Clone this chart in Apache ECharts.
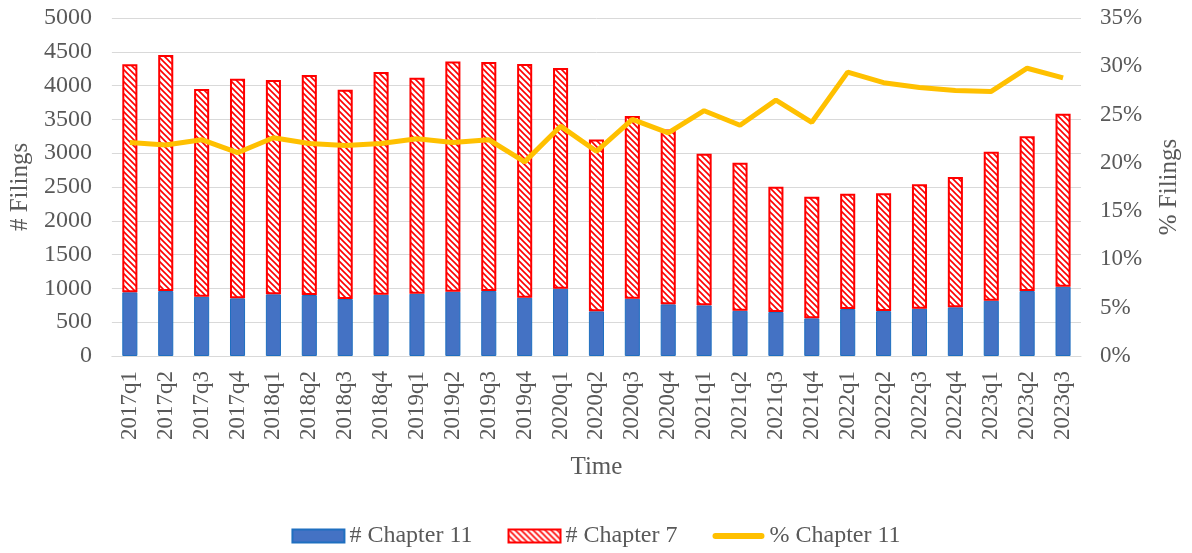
<!DOCTYPE html>
<html>
<head>
<meta charset="utf-8">
<script src="https://cdn.jsdelivr.net/npm/echarts@6/dist/echarts.min.js"></script>
<style>
  html, body { margin: 0; padding: 0; background: #fff; }
  #chart { width: 1192px; height: 553px; }
</style>
</head>
<body>
<div id="chart"></div>
<script>
// 季度
const quarters = [
  '2017q1', '2017q2', '2017q3', '2017q4',
  '2018q1', '2018q2', '2018q3', '2018q4',
  '2019q1', '2019q2', '2019q3', '2019q4',
  '2020q1', '2020q2', '2020q3', '2020q4',
  '2021q1', '2021q2', '2021q3', '2021q4',
  '2022q1', '2022q2', '2022q3', '2022q4',
  '2023q1', '2023q2', '2023q3'
]

// 第11章申请数
const chapter11 = [
  942, 961, 877, 853, 912, 902, 843, 907, 922, 951, 961, 863,
  996, 661, 848, 764, 749, 670, 651, 557, 695, 664, 700, 720,
  818, 961, 1025
]

// 第7章申请数（柱顶总数减第11章）
const chapter7 = [
  3372, 3491, 3072, 3249, 3170, 3254, 3096, 3293, 3195, 3407, 3387, 3456,
  3264, 2543, 2702, 2588, 2243, 2189, 1853, 1799, 1706, 1742, 1839, 1927,
  2204, 2288, 2559
]

// 第11章占比
const pctChapter11 = [
  0.221, 0.2185, 0.224, 0.2105, 0.226, 0.220, 0.218, 0.220, 0.225, 0.221, 0.224, 0.201,
  0.238, 0.212, 0.245, 0.231, 0.254, 0.239, 0.265, 0.242, 0.294, 0.283, 0.278, 0.275,
  0.274, 0.298, 0.288
]

const leftTicks = [0, 5000, 500]
const rightTicks = [0, 0.35, 0.05]

// 红色斜线填充
const makeHatch = function () {
  const c = document.createElement('canvas')
  c.width = 6
  c.height = 6
  const ctx = c.getContext('2d')
  ctx.fillStyle = '#ffffff'
  ctx.fillRect(0, 0, 6, 6)
  ctx.strokeStyle = '#ff0000'
  ctx.lineWidth = 1.6
  ctx.beginPath()
  ctx.moveTo(-1, -1); ctx.lineTo(7, 7)
  ctx.moveTo(-4, 2); ctx.lineTo(2, 8)
  ctx.moveTo(2, -4); ctx.lineTo(8, 2)
  ctx.stroke()
  return c
}

const chart = echarts.init(document.getElementById('chart'))

const font = 'Liberation Serif'
const grey = '#595959'

// 图例里的折线图标（圆头粗线）
const lineIcon = 'path://M3,0 H49 A3,3 0 0 1 49,6 H3 A3,3 0 0 1 3,0 Z'

const option = {
  textStyle: { fontFamily: font },
  grid: { left: 109, right: 111, top: 18, bottom: 197 },
  legend: {
    top: 519,
    left: 'center',
    itemWidth: 52,
    itemHeight: 13,
    itemGap: 35,
    textStyle: { fontFamily: font, fontSize: 24, color: grey },
    data: [
      { name: '# Chapter 11', icon: 'rect' },
      { name: '# Chapter 7', icon: 'rect' },
      {
        name: '% Chapter 11',
        icon: lineIcon,
        itemStyle: { color: '#FFC000', borderWidth: 0 },
        lineStyle: { width: 0 }
      }
    ]
  },
  xAxis: {
    type: 'category',
    data: quarters,
    name: 'Time',
    nameLocation: 'middle',
    nameGap: 99,
    nameTextStyle: { fontFamily: font, fontSize: 25, color: grey },
    axisLine: { lineStyle: { color: '#d9d9d9', width: 1 } },
    axisTick: { show: false },
    axisLabel: {
      interval: 0,
      rotate: 90,
      margin: 15,
      fontFamily: font,
      fontSize: 23,
      color: grey
    }
  },
  yAxis: [
    {
      type: 'value',
      min: leftTicks[0],
      max: leftTicks[1],
      interval: leftTicks[2],
      name: '# Filings',
      nameLocation: 'middle',
      nameGap: 76,
      nameTextStyle: { fontFamily: font, fontSize: 25, color: grey },
      axisLine: { show: false },
      axisTick: { show: false },
      axisLabel: {
        margin: 20,
        fontFamily: font,
        fontSize: 24,
        color: grey,
        formatter: v => String(v)
      },
      splitLine: { lineStyle: { color: '#d9d9d9', width: 1 } }
    },
    {
      type: 'value',
      min: rightTicks[0],
      max: rightTicks[1],
      interval: rightTicks[2],
      name: '% Filings',
      nameLocation: 'middle',
      nameGap: 76,
      nameRotate: 90,
      nameTextStyle: { fontFamily: font, fontSize: 25, color: grey },
      axisLine: { show: false },
      axisTick: { show: false },
      axisLabel: {
        margin: 19,
        fontFamily: font,
        fontSize: 23,
        color: grey,
        formatter: v => Math.round(v * 100) + '%'
      },
      splitLine: { show: false }
    }
  ],
  series: [
    {
      name: '# Chapter 11',
      type: 'bar',
      stack: 'filings',
      barWidth: '42%',
      data: chapter11,
      itemStyle: { color: '#4472C4', borderColor: '#1F6FC0', borderWidth: 1 }
    },
    {
      name: '# Chapter 7',
      type: 'bar',
      stack: 'filings',
      barWidth: '42%',
      data: chapter7,
      itemStyle: {
        color: { image: makeHatch(), repeat: 'repeat' },
        borderColor: '#ff0000',
        borderWidth: 2
      }
    },
    {
      name: '% Chapter 11',
      type: 'line',
      yAxisIndex: 1,
      data: pctChapter11,
      symbol: 'none',
      lineStyle: { color: '#FFC000', width: 5 },
      itemStyle: { color: '#FFC000' },
      z: 5
    }
  ]
}

chart.setOption(option)
</script>
</body>
</html>
